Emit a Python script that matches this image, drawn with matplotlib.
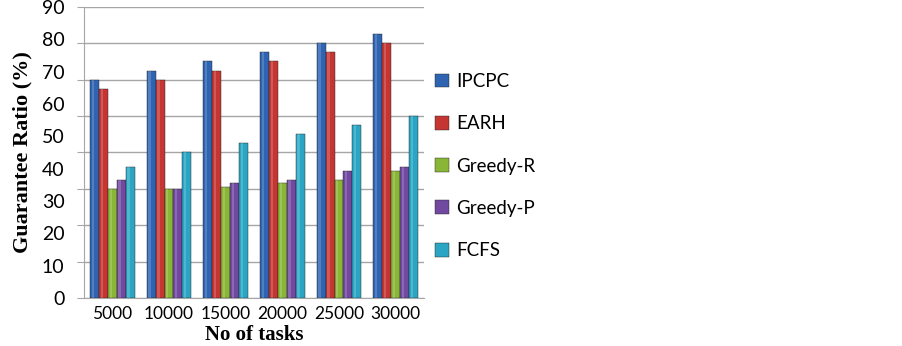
import numpy as np
import matplotlib.pyplot as plt

# data (in grid units: one grid step = 10)
tasks = ['5000', '10000', '15000', '20000', '25000', '30000']
ipcpc = [60, 62.5, 65, 67.5, 70, 72.5]
earh = [57.5, 60, 62.5, 65, 67.5, 70]
greedy_r = [30, 30, 30.5, 31.5, 32.5, 35]
greedy_p = [32.5, 30, 31.5, 32.5, 35, 36]
fcfs = [36, 40, 42.5, 45, 47.5, 50]
y_labels = ['0', '10', '20', '30', '40', '50', '60', '70', '80', '90']

series = [('IPCPC', ipcpc, '#2F64B2'),
          ('EARH', earh, '#C53532'),
          ('Greedy-R', greedy_r, '#8AB638'),
          ('Greedy-P', greedy_p, '#7149A0'),
          ('FCFS', fcfs, '#2AA6C4')]

fig = plt.figure(figsize=(9.03, 3.46), dpi=100)
ax = fig.add_axes([0.093, 0.139, 0.3765, 0.841])

x = np.arange(len(tasks))
w = 0.157
for i, (name, vals, col) in enumerate(series):
    pos = x + (i - 2) * w
    ax.bar(pos, vals, width=w, color=col, edgecolor='#1f1f1f', linewidth=0.3,
           label=name, zorder=3)
    # light highlight stripe to mimic the bevelled bars
    ax.bar(pos - w * 0.18, vals, width=w * 0.25, color='white', alpha=0.18,
           linewidth=0, zorder=4)

ax.set_xlim(-0.5, len(tasks) - 0.5)
ax.set_ylim(0, 80)
ax.set_yticks(range(0, 81, 10))
ax.set_yticklabels([])
ax.grid(axis='y', color='#a6a6a6', linewidth=1.0, zorder=0)
ax.tick_params(axis='y', length=5, color='#a6a6a6')
ax.set_xticks(x)
ax.set_xticklabels(tasks, fontsize=12.5, family='Lato')
ax.tick_params(axis='x', length=0, pad=6)
for s in ['top', 'right']:
    ax.spines[s].set_visible(False)
ax.spines['left'].set_color('#a6a6a6')
ax.spines['bottom'].set_color('#a6a6a6')
ax.set_xlabel('No of tasks', fontsize=15, family='Liberation Serif',
              fontweight='bold', labelpad=2)

# the printed labels run 0..90 over the same height
lab = ax.twinx()
lab.set_ylim(0, 90)
lab.set_yticks(range(0, 91, 10))
lab.set_yticklabels(y_labels, fontsize=14, family='Lato')
lab.yaxis.tick_left()
lab.yaxis.set_label_position('left')
lab.tick_params(axis='y', length=0, pad=14)
for s in lab.spines.values():
    s.set_visible(False)
lab.set_ylabel('Guarantee Ratio (%)', fontsize=16, family='Liberation Serif',
               fontweight='bold', labelpad=7)

h, l = ax.get_legend_handles_labels()
fig.legend(h[:5], l[:5], loc='center left', bbox_to_anchor=(0.463, 0.52),
           frameon=False, prop={'family': 'Lato', 'size': 13.5},
           handlelength=0.75, handleheight=0.75, handletextpad=0.4,
           labelspacing=1.35)

fig.savefig('out.png', dpi=100)
